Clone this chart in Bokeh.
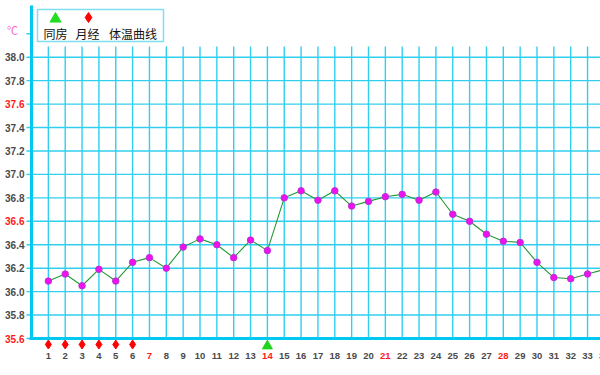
from bokeh.plotting import figure
from bokeh.models import Range1d, ColumnDataSource
from bokeh.embed import file_html
from bokeh.resources import INLINE
from bokeh.core.properties import value

# ---------------- data ----------------
days = list(range(1, 35))
temps = [36.09, 36.15, 36.05, 36.19, 36.09, 36.25, 36.29, 36.20, 36.38, 36.45,
         36.40, 36.29, 36.44, 36.35, 36.80, 36.86, 36.78, 36.86, 36.73, 36.77,
         36.81, 36.83, 36.78, 36.85, 36.66, 36.60, 36.49, 36.43, 36.42, 36.25,
         36.12, 36.11, 36.15, 36.19]
period_days = [1, 2, 3, 4, 5, 6]
intercourse_days = [14]
y_ticks = [35.6, 35.8, 36.0, 36.2, 36.4, 36.6, 36.8, 37.0, 37.2, 37.4, 37.6, 37.8, 38.0]
red_y_ticks = [35.6, 36.6, 37.6]
red_x_ticks = [7, 14, 21, 28]
unit_tick = 38.2
unit_label = "℃"
legend_labels = ["同房", "月经", "体温曲线"]

# ---------------- layout (pixels) ----------------
W, H = 600, 375
AXIS_PX = 31          # pixel x of day 0 (left axis)
PX_PER_DAY = 16.85
PX_PER_DEG = 117.2
BASE_T = 35.6
BASE_PX = 338         # pixel y of 35.6 (bottom axis)


def dx(px):
    return (px - AXIS_PX) / PX_PER_DAY


def dy(py):
    return BASE_T + (BASE_PX - py) / PX_PER_DEG


GRID = "#30cff0"
AXIS = "#00c8f0"
GRAY = "#4a4a4a"
RED = "#ff1a1a"

p = figure(width=W, height=H, output_backend="svg", toolbar_location=None,
           x_range=Range1d(dx(0), dx(W)), y_range=Range1d(dy(H), dy(0)),
           min_border=0)
p.outline_line_color = None
p.background_fill_color = "white"
p.border_fill_color = "white"
p.xaxis.visible = False
p.yaxis.visible = False
p.xgrid.visible = False
p.ygrid.visible = False

x_end = dx(W)
tick_x0 = dx(AXIS_PX - 5)

# horizontal grid lines (with outward tick) and the unit tick
p.segment(x0=[tick_x0] * len(y_ticks), y0=y_ticks, x1=[x_end] * len(y_ticks), y1=y_ticks,
          line_color=GRID, line_width=1.4)
p.segment(x0=[tick_x0], y0=[unit_tick], x1=[0], y1=[unit_tick],
          line_color=GRID, line_width=1.4)
# vertical grid lines
p.segment(x0=days, y0=[BASE_T] * len(days), x1=days, y1=[dy(46)] * len(days),
          line_color=GRID, line_width=1.4)

# axis lines
p.segment(x0=[0], y0=[BASE_T], x1=[0], y1=[dy(5)], line_color=AXIS, line_width=3)
p.segment(x0=[dx(29)], y0=[BASE_T], x1=[x_end], y1=[BASE_T], line_color=AXIS, line_width=3)

# y tick labels
ysrc = ColumnDataSource(dict(
    x=[dx(24)] * len(y_ticks), y=y_ticks, t=["%.1f" % v for v in y_ticks],
    c=[RED if v in red_y_ticks else GRAY for v in y_ticks]))
p.text(x="x", y="y", text="t", text_color="c", source=ysrc, text_align="right",
       text_baseline="middle", text_font=value("Liberation Sans"),
       text_font_style="bold", text_font_size="10px")
# unit label
p.text(x=[dx(12)], y=[dy(29.5)], text=[unit_label], text_align="center",
       text_baseline="middle", text_font=value("Noto Sans CJK SC"),
       text_font_size="11px", text_color="#ff66cc")

# x tick labels
xsrc = ColumnDataSource(dict(
    x=days, y=[dy(355)] * len(days), t=[str(d) for d in days],
    c=[RED if d in red_x_ticks else GRAY for d in days]))
p.text(x="x", y="y", text="t", text_color="c", source=xsrc, text_align="center",
       text_baseline="middle", text_font=value("Liberation Sans"),
       text_font_style="bold", text_font_size="9.5px")

# data
p.line(days, temps, line_color="#229933", line_width=1.1)
p.scatter(days, temps, marker="circle", size=6.5, fill_color="#ee11ee",
          line_color="#b833d6", line_width=1)

# event markers below axis
p.scatter(period_days, [dy(344)] * len(period_days), marker="diamond", size=9,
          fill_color="#ff0000", line_color="#ff0000")
p.scatter(intercourse_days, [dy(345.5)] * len(intercourse_days), marker="triangle",
          size=10, fill_color="#1ed41e", line_color="#1ed41e")

# legend
p.quad(left=[dx(37)], right=[dx(163)], top=[dy(9)], bottom=[dy(41)],
       fill_color="white", line_color="#7fdff2", line_width=1.5)
p.scatter([dx(55)], [dy(18.4)], marker="triangle", size=11,
          fill_color="#22dd22", line_color="#22dd22")
p.scatter([dx(88)], [dy(17)], marker="diamond", size=10,
          fill_color="#ff0000", line_color="#ff0000")
p.text(x=[dx(55), dx(87), dx(132.5)], y=[dy(33)] * 3, text=legend_labels,
       text_align="center", text_baseline="middle",
       text_font=value("Noto Sans CJK SC"), text_font_size="12px", text_color="#111111")

open("out.html", "w").write(file_html(p, INLINE))
